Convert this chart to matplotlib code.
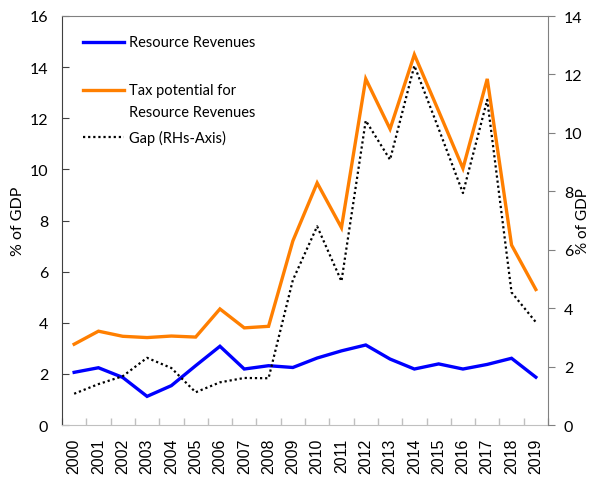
import matplotlib
matplotlib.use("Agg")
import matplotlib.pyplot as plt
from matplotlib.lines import Line2D
import numpy as np

years = [str(y) for y in range(2000, 2020)]
resource_revenues = [2.06, 2.24, 1.86, 1.12, 1.54, 2.32, 3.08, 2.19, 2.32, 2.25,
                     2.62, 2.90, 3.13, 2.58, 2.19, 2.39, 2.19, 2.37, 2.61, 1.87]
tax_potential = [3.16, 3.67, 3.47, 3.42, 3.48, 3.44, 4.54, 3.80, 3.86, 7.20,
                 9.47, 7.72, 13.54, 11.58, 14.49, 12.28, 10.04, 13.54, 7.04, 5.30]
gap_rhs = [1.07, 1.40, 1.67, 2.30, 1.95, 1.12, 1.46, 1.61, 1.60, 4.96,
           6.80, 4.92, 10.42, 9.08, 12.30, 10.14, 7.94, 11.13, 4.54, 3.52]

left_ticks = [0, 2, 4, 6, 8, 10, 12, 14, 16]
right_ticks = [0, 2, 4, 6, 8, 10, 12, 14]
ylabel = "% of GDP"
labels = ["Resource Revenues", "Tax potential for\nResource Revenues", "Gap (RHs-Axis)"]

FONT = "Lato"
plt.rcParams['font.family'] = [FONT, 'DejaVu Sans']

fig = plt.figure(figsize=(5.90, 4.81), dpi=100)
W, H = 590, 481
L, R, T, B = 62, 548, 17, 426
ax = fig.add_axes([L / W, 1 - B / H, (R - L) / W, (B - T) / H])
ax2 = ax.twinx()

x = np.arange(len(years))
ax.plot(x, resource_revenues, color='#0000FF', lw=2.4, solid_joinstyle='miter', zorder=3)
ax.plot(x, tax_potential, color='#FF7F00', lw=2.4, solid_joinstyle='miter', zorder=3)
ax2.plot(x, gap_rhs, color='black', lw=1.6, linestyle=(0, (1, 1.3)), zorder=3)

ax.set_xlim(-0.5, len(years) - 0.5)
ax.set_ylim(0, 16)
ax2.set_ylim(0, 14)
ax.set_yticks(left_ticks)
ax2.set_yticks(right_ticks)

ax.set_xticks(x)
ax.set_xticklabels(years, rotation=90, fontsize=11.5, family='Liberation Sans')
ax.tick_params(axis='x', which='major', length=0, pad=9)
ax.set_xticks(np.arange(-0.5, len(years) + 0.5, 1), minor=True)
ax.tick_params(axis='x', which='minor', direction='in', length=5, color='#c0c0c0', width=1)

ax.tick_params(axis='y', direction='in', length=5, color='#404040', labelsize=11.5, pad=10)
ax2.tick_params(axis='y', direction='out', length=5, color='#808080', labelsize=11.5, pad=6.5)

for a in (ax, ax2):
    for s in a.spines.values():
        s.set_visible(False)
ax.spines['left'].set_visible(True)
ax.spines['left'].set_color('#404040')
ax.spines['bottom'].set_visible(True)
ax.spines['bottom'].set_color('#c0c0c0')
ax.spines['top'].set_visible(True)
ax.spines['top'].set_color('#808080')
ax2.spines['right'].set_visible(True)
ax2.spines['right'].set_color('#808080')

ax.set_ylabel(ylabel, fontsize=11.5)
ax.yaxis.set_label_coords((25 - L) / (R - L), 0.5)
ax2.set_ylabel(ylabel, fontsize=11, rotation=90)
ax2.yaxis.set_label_coords((576 - L) / (R - L), 0.5)

# legend drawn manually
lx0, lx1, tx = 0.044, 0.128, 0.138
FS_LEG = 10.5
entries = [
    (0.936, dict(color='#0000FF', lw=2.4), labels[0]),
    (0.818, dict(color='#FF7F00', lw=2.4), labels[1]),
    (0.704, dict(color='black', lw=1.6, linestyle=(0, (1, 1.3))), labels[2]),
]
for ly, style, text in entries:
    ax.add_line(Line2D([lx0, lx1], [ly, ly], transform=ax.transAxes, **style))
    lines = text.split('\n')
    for i, t in enumerate(lines):
        ax.text(tx, ly - 0.052 * i, t, transform=ax.transAxes, va='center', ha='left', fontsize=FS_LEG)

fig.savefig("out.png", dpi=100)
